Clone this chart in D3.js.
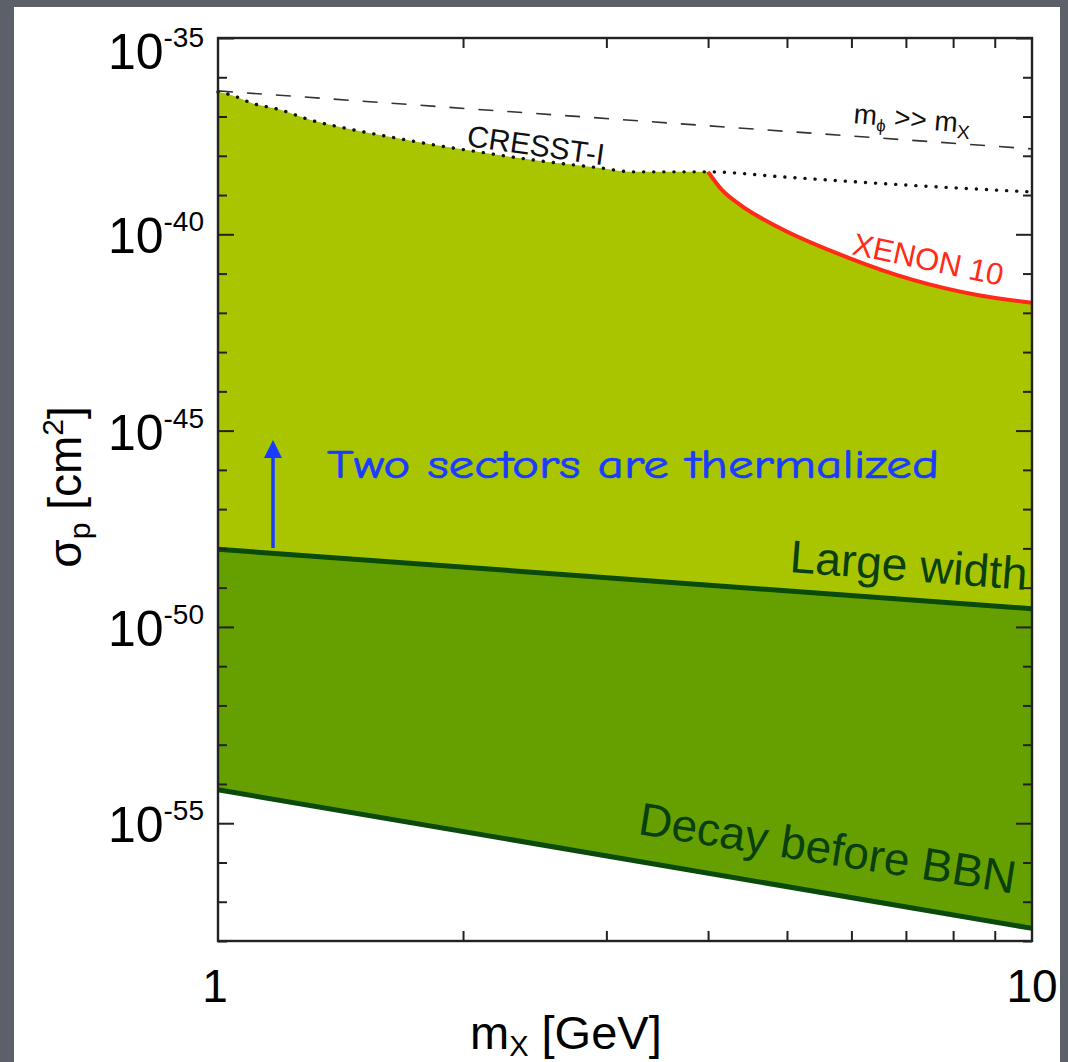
<!DOCTYPE html>
<html>
<head>
<meta charset="utf-8">
<script src="https://d3js.org/d3.v7.min.js"></script>
<style>
  html, body { margin: 0; padding: 0; background: #5c6068; }
  svg { display: block; }
  text { font-family: "Liberation Sans", Arial, Helvetica, sans-serif; }
</style>
</head>
<body>
<svg id="chart" width="1068" height="1062"></svg>
<script>
// curves (mass in GeV, cross-section in cm^2)
var cresstMass  = [1.00, 1.04, 1.10, 1.19, 1.30, 1.45, 1.63, 1.84, 2.12, 2.44, 2.95, 3.23, 4.00, 4.94, 7.00, 10.0];
var cresstSigma = [4.2e-37, 3.5e-37, 2.2e-37, 1.5e-37, 8.1e-38, 4.8e-38, 3.0e-38, 1.9e-38, 1.2e-38, 7.8e-39, 4.9e-39, 3.9e-39, 3.9e-39, 2.9e-39, 1.8e-39, 1.2e-39];

var xenonMass  = [4.00, 4.16, 4.38, 4.90, 5.93, 7.14, 8.60, 10.0];
var xenonSigma = [3.9e-39, 1.35e-39, 5.6e-40, 1.45e-40, 2.6e-41, 6.9e-42, 2.8e-42, 1.8e-42];

var mphiMass  = [1, 10];
var mphiSigma = [4.5e-37, 1.5e-38];

var largeMass  = [1, 10];
var largeSigma = [9.5e-49, 2.9e-50];

var bbnMass  = [1, 10];
var bbnSigma = [7.1e-55, 2.1e-58];

var yMajor = [-35, -40, -45, -50, -55];
var xMinor = [2, 3, 4, 5, 6, 7, 8, 9];
var xLabels = [1, 10];

var dom = {};

function zip(ms, ss) {
    return ms.map(function(m, i) { return { m: m, s: ss[i] }; });
}

function init() {
    dom.svg = d3.select('#chart');

    dom.svg.append('rect').attr('x', 0).attr('y', 0).attr('width', 1068).attr('height', 1062).attr('fill', '#5c6068');
    dom.svg.append('rect').attr('x', 14).attr('y', 7).attr('width', 1046).attr('height', 1055).attr('fill', '#ffffff');

    var left = 218, right = 1032, top = 38, bottom = 941;

    var x = d3.scaleLog().domain([1, 10]).range([left, right]);
    var y = d3.scaleLog().domain([1e-58, 1e-35]).range([bottom, top]);

    var line = d3.line()
        .x(function(d) { return x(d.m); })
        .y(function(d) { return y(d.s); });
    var smooth = d3.line().curve(d3.curveMonotoneX)
        .x(function(d) { return x(d.m); })
        .y(function(d) { return y(d.s); });

    // upper boundary of the light region: CRESST up to 4 GeV then XENON
    var upper = zip(cresstMass, cresstSigma).filter(function(d) { return d.m <= 4; })
        .concat(zip(xenonMass, xenonSigma).slice(1));
    var large = zip(largeMass, largeSigma);
    var bbn = zip(bbnMass, bbnSigma);

    var area = d3.area()
        .x(function(d) { return x(d.m); })
        .y0(function(d) { return y(d.lo); })
        .y1(function(d) { return y(d.hi); });

    var largeAt = d3.scaleLog().domain(largeMass).range(largeSigma.map(Math.log10));
    var lightData = upper.map(function(d) { return { m: d.m, hi: d.s, lo: Math.pow(10, largeAt(d.m)) }; });
    var darkData = large.map(function(d, i) { return { m: d.m, hi: d.s, lo: bbn[i].s }; });

    dom.svg.append('path').datum(lightData).attr('d', area.curve(d3.curveMonotoneX)).attr('fill', '#a8c500');
    dom.svg.append('path').datum(darkData).attr('d', area.curve(d3.curveLinear)).attr('fill', '#66a000');

    dom.svg.append('path').datum(zip(mphiMass, mphiSigma)).attr('d', line)
        .attr('fill', 'none').attr('stroke', '#333').attr('stroke-width', 1.6).attr('stroke-dasharray', '15,14');

    dom.svg.append('path').datum(zip(cresstMass, cresstSigma)).attr('d', smooth)
        .attr('fill', 'none').attr('stroke', '#111').attr('stroke-width', 3.4)
        .attr('stroke-dasharray', '0.1,10').attr('stroke-linecap', 'round');

    dom.svg.append('path').datum(zip(xenonMass, xenonSigma)).attr('d', smooth)
        .attr('fill', 'none').attr('stroke', '#ff2a18').attr('stroke-width', 4);

    [large, bbn].forEach(function(l) {
        dom.svg.append('path').datum(l).attr('d', line)
            .attr('fill', 'none').attr('stroke', '#0a4a0a').attr('stroke-width', 5);
    });

    // axes: ticks only, drawn inward
    var decades = d3.range(-58, -34).map(function(e) { return Math.pow(10, e); });
    var minorY = decades.filter(function(v) { return Math.round(Math.log10(v)) % 5 !== 0; });
    var majorY = yMajor.map(function(e) { return Math.pow(10, e); });

    function ax(g, a) {
        g.call(a);
        g.select('.domain').remove();
        g.selectAll('line').attr('stroke', '#222').attr('stroke-width', 2);
    }
    ax(dom.svg.append('g').attr('transform', 'translate(' + left + ',0)'),
        d3.axisLeft(y).tickValues(minorY).tickSize(-9).tickFormat(''));
    ax(dom.svg.append('g').attr('transform', 'translate(' + left + ',0)'),
        d3.axisLeft(y).tickValues(majorY).tickSize(-16).tickFormat(''));
    ax(dom.svg.append('g').attr('transform', 'translate(' + right + ',0)'),
        d3.axisRight(y).tickValues(minorY).tickSize(-9).tickFormat(''));
    ax(dom.svg.append('g').attr('transform', 'translate(' + right + ',0)'),
        d3.axisRight(y).tickValues(majorY).tickSize(-16).tickFormat(''));
    ax(dom.svg.append('g').attr('transform', 'translate(0,' + bottom + ')'),
        d3.axisBottom(x).tickValues(xMinor).tickSize(-10).tickFormat(''));
    ax(dom.svg.append('g').attr('transform', 'translate(0,' + top + ')'),
        d3.axisTop(x).tickValues(xMinor).tickSize(-10).tickFormat(''));

    dom.svg.append('rect').attr('x', left).attr('y', top).attr('width', right - left).attr('height', bottom - top)
        .attr('fill', 'none').attr('stroke', '#222').attr('stroke-width', 2.4);

    // y tick labels
    var yl = dom.svg.selectAll('.ylab').data(yMajor).enter().append('text')
        .attr('class', 'ylab')
        .attr('x', 204)
        .attr('y', function(e) { return Math.max(y(Math.pow(10, e)), 50) + 19; })
        .attr('text-anchor', 'end')
        .attr('fill', '#000')
        .style('font-size', '50px');
    yl.append('tspan').text('10');
    yl.append('tspan').attr('dy', -22).style('font-size', '28px').text(function(e) { return '-' + Math.abs(e); });

    // x tick labels
    dom.svg.selectAll('.xlab').data(xLabels).enter().append('text')
        .attr('class', 'xlab')
        .attr('x', function(d) { return x(d) - (d === 1 ? 3 : 0); })
        .attr('y', 1002)
        .attr('text-anchor', 'middle')
        .style('font-size', '46px')
        .text(function(d) { return d; });

    // axis titles
    var xt2 = dom.svg.append('text').attr('x', 470).attr('y', 1049).style('font-size', '47px');
    xt2.append('tspan').text('m');
    xt2.append('tspan').attr('dy', 7).style('font-size', '29px').text('X');
    xt2.append('tspan').attr('dy', -7).text(' [GeV]');

    var yt = dom.svg.append('text').attr('transform', 'translate(81,487) rotate(-90)')
        .attr('text-anchor', 'middle').style('font-size', '46px');
    yt.append('tspan').text('σ');
    yt.append('tspan').attr('dy', 9).style('font-size', '30px').text('p');
    yt.append('tspan').attr('dy', -9).text(' [cm');
    yt.append('tspan').attr('dy', -18).style('font-size', '30px').text('2');
    yt.append('tspan').attr('dy', 18).text(']');

    // curve labels
    function label(txt, px, py, ang, size, color) {
        return dom.svg.append('text')
            .attr('transform', 'translate(' + px + ',' + py + ') rotate(' + ang + ')')
            .style('font-size', size + 'px').attr('fill', color).text(txt);
    }
    label('CRESST-I', 466, 146, 8, 30, '#111');
    label('XENON 10', 851, 254, 12, 31, '#ff2a18');
    label('Large width', 789, 572, 4.3, 46, '#0a4010');
    label('Decay before BBN', 637, 834, 9, 46, '#0a4010');

    var mp = dom.svg.append('text').attr('transform', 'translate(853,123) rotate(5)')
        .style('font-size', '28px').attr('fill', '#111');
    mp.append('tspan').text('m');
    mp.append('tspan').attr('dy', 6).style('font-size', '17px').text('ϕ');
    mp.append('tspan').attr('dy', -6).text(' >> m');
    mp.append('tspan').attr('dy', 6).style('font-size', '19px').text('X');

    // annotation
    var ac = '#1a3cff';
    dom.svg.append('line').attr('x1', 273).attr('y1', 548).attr('x2', 273).attr('y2', 452)
        .attr('stroke', ac).attr('stroke-width', 3.5);
    dom.svg.append('path').attr('d', 'M273,440 L264,458 L282,458 Z').attr('fill', ac);
    dom.svg.append('text').attr('x', 327).attr('y', 478)
        .attr('textLength', 612).attr('lengthAdjust', 'spacingAndGlyphs')
        .style('font-family', '"Comic Sans MS", "Comic Neue", "DejaVu Sans", sans-serif')
        .style('font-size', '40px').attr('fill', ac)
        .attr('stroke', ac).attr('stroke-width', 0.7).attr('stroke-linejoin', 'round')
        .text('Two sectors are thermalized');
}

init();
</script>
</body>
</html>
